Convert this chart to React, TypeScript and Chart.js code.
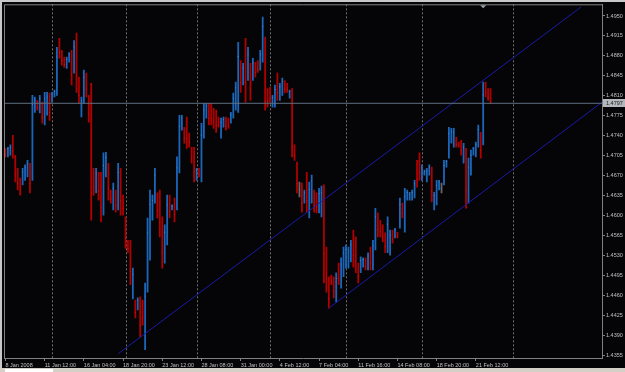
import React, { useEffect, useRef } from "react";
import { Chart, registerables } from "chart.js";
Chart.register(...registerables);

// ---- data (H4 bars, 8 Jan - 21 Feb 2008) ----
const opens = [
  1.4715,1.4708,1.4711,1.4733,1.4697,1.4675,1.4660,1.4663,1.4670,1.4677,
  1.4682,1.4667,1.4789,1.4799,1.4789,1.4792,1.4776,1.4788,1.4805,1.4804,
  1.4812,1.4817,1.4904,1.4885,1.4874,1.4864,1.4874,1.4883,1.4867,1.4899,
  1.4834,1.4784,1.4804,1.4842,1.4802,1.4785,1.4674,1.4653,1.4666,1.4659,
  1.4634,1.4681,1.4679,1.4640,1.4624,1.4637,1.4635,1.4667,1.4629,1.4587,
  1.4553,1.4541,1.4470,1.4446,1.4441,1.4444,1.4443,1.4400,1.4505,1.4559,
  1.4605,1.4640,1.4631,1.4629,1.4580,1.4537,1.4575,1.4628,1.4613,1.4623,
  1.4638,1.4705,1.4758,1.4749,1.4762,1.4740,1.4714,1.4708,1.4668,1.4680,
  1.4690,1.4754,1.4779,1.4789,1.4789,1.4781,1.4777,1.4769,1.4746,1.4760,
  1.4768,1.4767,1.4768,1.4784,1.4800,1.4818,1.4861,1.4840,1.4889,1.4854,
  1.4854,1.4849,1.4864,1.4868,1.4866,1.4885,1.4905,1.4816,1.4819,1.4796,
  1.4802,1.4840,1.4811,1.4820,1.4833,1.4829,1.4810,1.4815,1.4719,1.4683,
  1.4646,1.4647,1.4629,1.4662,1.4615,1.4637,1.4637,1.4633,1.4618,1.4614,
  1.4640,1.4529,1.4482,1.4493,1.4486,1.4464,1.4509,1.4489,1.4509,1.4520,
  1.4519,1.4530,1.4562,1.4550,1.4510,1.4508,1.4515,1.4522,1.4514,1.4537,
  1.4521,1.4562,1.4597,1.4586,1.4578,1.4563,1.4554,1.4544,1.4570,1.4566,
  1.4569,1.4594,1.4617,1.4594,1.4632,1.4631,1.4632,1.4640,1.4688,1.4700,
  1.4670,1.4674,1.4666,1.4676,1.4673,1.4619,1.4632,1.4650,1.4648,1.4667,
  1.4689,1.4717,1.4735,1.4730,1.4734,1.4727,1.4727,1.4703,1.4697,1.4646,
  1.4684,1.4710,1.4711,1.4732,1.4737,1.4737,1.4829,1.4819,1.4818,
];
const highs = [
  1.4718,1.4720,1.4724,1.4741,1.4706,1.4683,1.4666,1.4683,1.4689,1.4697,
  1.4692,1.4811,1.4808,1.4802,1.4811,1.4799,1.4816,1.4816,1.4815,1.4816,
  1.4820,1.4895,1.4911,1.4890,1.4878,1.4878,1.4886,1.4890,1.4907,1.4920,
  1.4843,1.4808,1.4855,1.4850,1.4811,1.4832,1.4683,1.4683,1.4676,1.4676,
  1.4710,1.4711,1.4692,1.4645,1.4657,1.4645,1.4692,1.4683,1.4636,1.4598,
  1.4557,1.4557,1.4508,1.4452,1.4456,1.4458,1.4452,1.4482,1.4596,1.4645,
  1.4636,1.4683,1.4640,1.4645,1.4598,1.4584,1.4636,1.4636,1.4619,1.4631,
  1.4703,1.4776,1.4776,1.4755,1.4773,1.4745,1.4720,1.4720,1.4683,1.4683,
  1.4762,1.4797,1.4797,1.4797,1.4797,1.4788,1.4785,1.4773,1.4771,1.4773,
  1.4773,1.4771,1.4781,1.4815,1.4834,1.4904,1.4872,1.4867,1.4911,1.4895,
  1.4867,1.4876,1.4869,1.4872,1.4890,1.4948,1.4913,1.4823,1.4825,1.4811,
  1.4829,1.4850,1.4832,1.4841,1.4837,1.4832,1.4820,1.4823,1.4724,1.4694,
  1.4659,1.4657,1.4645,1.4676,1.4659,1.4671,1.4645,1.4640,1.4648,1.4652,
  1.4654,1.4545,1.4493,1.4496,1.4493,1.4500,1.4517,1.4526,1.4545,1.4549,
  1.4545,1.4557,1.4575,1.4563,1.4517,1.4528,1.4526,1.4526,1.4535,1.4545,
  1.4557,1.4613,1.4605,1.4592,1.4584,1.4570,1.4598,1.4575,1.4575,1.4578,
  1.4571,1.4631,1.4622,1.4648,1.4645,1.4641,1.4645,1.4662,1.4697,1.4710,
  1.4689,1.4680,1.4683,1.4689,1.4685,1.4641,1.4662,1.4662,1.4657,1.4697,
  1.4697,1.4755,1.4753,1.4753,1.4738,1.4729,1.4732,1.4727,1.4718,1.4701,
  1.4715,1.4720,1.4729,1.4759,1.4746,1.4834,1.4834,1.4823,1.4823,
];
const lows = [
  1.4703,1.4703,1.4706,1.4701,1.4659,1.4645,1.4636,1.4654,1.4662,1.4668,
  1.4640,1.4662,1.4781,1.4785,1.4780,1.4762,1.4759,1.4776,1.4767,1.4799,
  1.4808,1.4811,1.4876,1.4864,1.4860,1.4858,1.4869,1.4829,1.4850,1.4816,
  1.4797,1.4773,1.4797,1.4808,1.4764,1.4592,1.4636,1.4640,1.4627,1.4589,
  1.4601,1.4668,1.4627,1.4622,1.4610,1.4606,1.4610,1.4601,1.4601,1.4543,
  1.4535,1.4479,1.4454,1.4421,1.4435,1.4387,1.4408,1.4365,1.4466,1.4522,
  1.4592,1.4622,1.4596,1.4563,1.4508,1.4517,1.4549,1.4596,1.4610,1.4589,
  1.4610,1.4675,1.4750,1.4727,1.4718,1.4720,1.4692,1.4659,1.4662,1.4668,
  1.4659,1.4736,1.4771,1.4759,1.4759,1.4753,1.4746,1.4755,1.4736,1.4755,
  1.4750,1.4753,1.4762,1.4771,1.4785,1.4781,1.4816,1.4829,1.4799,1.4837,
  1.4802,1.4837,1.4843,1.4851,1.4855,1.4869,1.4785,1.4790,1.4797,1.4790,
  1.4790,1.4802,1.4802,1.4811,1.4815,1.4816,1.4806,1.4703,1.4697,1.4640,
  1.4633,1.4606,1.4622,1.4606,1.4596,1.4622,1.4606,1.4605,1.4605,1.4598,
  1.4482,1.4466,1.4438,1.4479,1.4456,1.4449,1.4479,1.4473,1.4493,1.4508,
  1.4508,1.4519,1.4510,1.4500,1.4482,1.4500,1.4510,1.4505,1.4505,1.4505,
  1.4505,1.4540,1.4563,1.4563,1.4554,1.4535,1.4535,1.4531,1.4552,1.4561,
  1.4561,1.4578,1.4596,1.4571,1.4627,1.4627,1.4627,1.4631,1.4650,1.4662,
  1.4662,1.4671,1.4659,1.4671,1.4624,1.4610,1.4619,1.4645,1.4640,1.4654,
  1.4685,1.4701,1.4727,1.4720,1.4720,1.4720,1.4706,1.4692,1.4613,1.4622,
  1.4671,1.4706,1.4703,1.4720,1.4701,1.4724,1.4808,1.4802,1.4797,
];
const closes = [
  1.4708,1.4717,1.4720,1.4713,1.4673,1.4656,1.4645,1.4677,1.4684,1.4691,
  1.4656,1.4795,1.4803,1.4790,1.4805,1.4773,1.4805,1.4808,1.4781,1.4813,
  1.4818,1.4878,1.4886,1.4872,1.4865,1.4874,1.4883,1.4847,1.4896,1.4847,
  1.4811,1.4801,1.4843,1.4821,1.4778,1.4640,1.4650,1.4674,1.4642,1.4615,
  1.4688,1.4702,1.4647,1.4629,1.4648,1.4618,1.4676,1.4626,1.4612,1.4560,
  1.4542,1.4502,1.4497,1.4430,1.4452,1.4408,1.4421,1.4459,1.4570,1.4620,
  1.4627,1.4671,1.4609,1.4588,1.4535,1.4571,1.4619,1.4608,1.4617,1.4602,
  1.4684,1.4756,1.4771,1.4735,1.4735,1.4728,1.4700,1.4677,1.4679,1.4672,
  1.4741,1.4785,1.4792,1.4770,1.4770,1.4764,1.4758,1.4760,1.4764,1.4769,
  1.4757,1.4758,1.4777,1.4806,1.4824,1.4879,1.4833,1.4859,1.4833,1.4883,
  1.4822,1.4868,1.4851,1.4857,1.4883,1.4932,1.4800,1.4800,1.4805,1.4807,
  1.4821,1.4816,1.4826,1.4835,1.4822,1.4821,1.4817,1.4720,1.4705,1.4656,
  1.4646,1.4621,1.4640,1.4627,1.4646,1.4661,1.4618,1.4616,1.4639,1.4641,
  1.4534,1.4490,1.4455,1.4484,1.4467,1.4490,1.4490,1.4515,1.4535,1.4541,
  1.4538,1.4549,1.4530,1.4519,1.4493,1.4522,1.4523,1.4511,1.4529,1.4517,
  1.4547,1.4598,1.4576,1.4572,1.4563,1.4546,1.4585,1.4566,1.4559,1.4575,
  1.4564,1.4620,1.4604,1.4633,1.4641,1.4638,1.4641,1.4656,1.4664,1.4676,
  1.4684,1.4678,1.4678,1.4685,1.4642,1.4635,1.4653,1.4659,1.4648,1.4688,
  1.4695,1.4744,1.4748,1.4746,1.4725,1.4723,1.4714,1.4720,1.4645,1.4685,
  1.4706,1.4717,1.4724,1.4751,1.4715,1.4812,1.4816,1.4808,1.4797,
];

const xTickBars = [0, 16, 32, 48, 64, 80, 96, 112, 128, 144, 160, 176, 192];
const xTickLabels = [
  "8 Jan 2008", "11 Jan 12:00", "16 Jan 04:00", "18 Jan 20:00", "23 Jan 12:00",
  "28 Jan 08:00", "31 Jan 00:00", "4 Feb 12:00", "7 Feb 04:00", "11 Feb 16:00",
  "14 Feb 08:00", "18 Feb 20:00", "21 Feb 12:00",
];
const yTicks = [
  1.4355, 1.4390, 1.4425, 1.4460, 1.4495, 1.4530, 1.4565, 1.4600, 1.4635,
  1.4670, 1.4705, 1.4740, 1.4775, 1.4810, 1.4845, 1.4880, 1.4915, 1.4950,
];
const weekStartBars = [19, 49, 78, 108, 139, 170, 207];
const channelUpper = [{ x: 46, y: 1.4358 }, { x: 235, y: 1.4966 }];
const channelLower = [{ x: 132, y: 1.4438 }, { x: 243.5, y: 1.4799 }];
const shiftBar = 195;

const UP = "#1b66b8";
const DOWN = "#b00000";
const DOJI = "#666666";

const FONT = { family: "'Liberation Sans', Arial, sans-serif", size: 5.5 };

export default function App() {
  const ref = useRef<HTMLCanvasElement | null>(null);

  useEffect(() => {
    if (!ref.current) return;
    const barColors = closes.map((c, i) =>
      c > opens[i] ? UP : c < opens[i] ? DOWN : DOJI
    );
    const tickColors = closes.map((c, i) =>
      c > opens[i] ? "#4f98e4" : c < opens[i] ? "#d82020" : "#909090"
    );
    const last = closes[closes.length - 1];

    const mtPlugin = {
      id: "mt",
      beforeDraw(chart: any) {
        const { ctx, width, height } = chart;
        ctx.save();
        ctx.fillStyle = "#050507";
        ctx.fillRect(0, 0, width, height);
        ctx.fillStyle = "#c8c8c8";
        ctx.fillRect(0, 0, width, 2);
        ctx.fillRect(0, 0, 2, height);
        ctx.fillStyle = "#d4d0c8";
        ctx.fillRect(0, 368, width, 4);
        ctx.fillStyle = "#ffffff";
        ctx.fillRect(5, 369, 48, 3);
        ctx.restore();
      },
      beforeDatasetsDraw(chart: any) {
        const { ctx, chartArea: a } = chart;
        const xs = chart.scales.x;
        ctx.save();
        ctx.strokeStyle = "#6e6e6e";
        ctx.lineWidth = 1;
        ctx.setLineDash([2, 2]);
        weekStartBars.forEach((b) => {
          const px = Math.round(xs.getPixelForValue(b)) + 0.5;
          if (px < a.left || px > a.right) return;
          ctx.beginPath();
          ctx.moveTo(px, a.top);
          ctx.lineTo(px, a.bottom);
          ctx.stroke();
        });
        ctx.restore();
      },
      afterDraw(chart: any) {
        const { ctx, chartArea: a } = chart;
        const xs = chart.scales.x;
        const ys = chart.scales.y;
        ctx.save();
        ctx.strokeStyle = "#808080";
        ctx.lineWidth = 1;
        ctx.beginPath();
        ctx.moveTo(a.left + 0.5, a.bottom);
        ctx.lineTo(a.left + 0.5, a.top + 0.5);
        ctx.lineTo(a.right, a.top + 0.5);
        ctx.stroke();
        // current price label
        const py = Math.round(ys.getPixelForValue(last));
        ctx.fillStyle = "#b4b8bc";
        ctx.fillRect(a.right + 1, py - 4, 625 - a.right - 1, 8);
        ctx.fillStyle = "#1a1a1a";
        ctx.font = "5.5px 'Liberation Sans', Arial, sans-serif";
        ctx.textBaseline = "middle";
        ctx.textAlign = "left";
        ctx.fillText(last.toFixed(4), a.right + 4, py);
        // shift marker
        const sx = xs.getPixelForValue(shiftBar);
        ctx.fillStyle = "#9aa2aa";
        ctx.beginPath();
        ctx.moveTo(sx - 3, a.top + 1);
        ctx.lineTo(sx + 3, a.top + 1);
        ctx.lineTo(sx, a.top + 4);
        ctx.closePath();
        ctx.fill();
        ctx.restore();
      },
    };

    const chart = new Chart(ref.current, {
      type: "bar",
      data: {
        datasets: [
          {
            type: "line",
            data: [
              { x: -2, y: last },
              { x: 246, y: last },
            ],
            borderColor: "#5f6f80",
            borderWidth: 1,
            pointRadius: 0,
            order: 0,
          } as any,
          {
            type: "line",
            data: channelUpper,
            borderColor: "#1a1aa8",
            borderWidth: 1,
            pointRadius: 0,
            order: 1,
          } as any,
          {
            type: "line",
            data: channelLower,
            borderColor: "#1a1aa8",
            borderWidth: 1,
            pointRadius: 0,
            order: 1,
          } as any,
          {
            type: "line",
            data: closes.map((c, i) => ({ x: i, y: c })),
            showLine: false,
            pointStyle: "rect",
            pointRadius: 0.55,
            pointBorderWidth: 0,
            pointBackgroundColor: tickColors,
            order: 2,
          } as any,
          {
            type: "bar",
            data: highs.map((h, i) => ({ x: i, y: [lows[i], h] })),
            backgroundColor: barColors,
            borderWidth: 0,
            barThickness: 1.15,
            order: 3,
          } as any,
        ],
      },
      options: {
        responsive: false,
        animation: false,
        devicePixelRatio: 1,
        events: [],
        layout: { padding: { left: 4, top: 4, right: 0, bottom: 0 } },
        plugins: { legend: { display: false }, tooltip: { enabled: false } },
        scales: {
          x: {
            type: "linear",
            min: -0.6,
            max: 243.5,
            offset: false,
            afterBuildTicks: (s: any) => {
              s.ticks = xTickBars.map((v) => ({ value: v }));
            },
            afterFit: (s: any) => {
              s.height = 14;
            },
            grid: {
              drawOnChartArea: false,
              drawTicks: true,
              tickLength: 3,
              color: "#808080",
              offset: false,
            },
            border: { display: true, color: "#808080" },
            ticks: {
              autoSkip: false,
              maxRotation: 0,
              align: "start",
              padding: 1,
              color: "#c0c0c0",
              font: FONT,
              callback: (_v: any, i: number) => xTickLabels[i],
            },
          },
          y: {
            type: "linear",
            position: "right",
            min: 1.43506,
            max: 1.49705,
            afterBuildTicks: (s: any) => {
              s.ticks = yTicks.map((v) => ({ value: v }));
            },
            afterFit: (s: any) => {
              s.width = 23;
            },
            grid: {
              drawOnChartArea: false,
              drawTicks: true,
              tickLength: 3,
              color: "#808080",
            },
            border: { display: true, color: "#808080" },
            ticks: {
              autoSkip: false,
              padding: 1,
              color: "#c0c0c0",
              font: FONT,
              callback: (v: any) => Number(v).toFixed(4),
            },
          },
        },
      } as any,
      plugins: [mtPlugin],
    });
    return () => chart.destroy();
  }, []);

  return (
    <div
      style={{
        position: "fixed",
        left: 0,
        top: 0,
        width: 625,
        height: 372,
        background: "#050507",
      }}
    >
      <canvas ref={ref} width={625} height={372} style={{ display: "block" }} />
    </div>
  );
}
